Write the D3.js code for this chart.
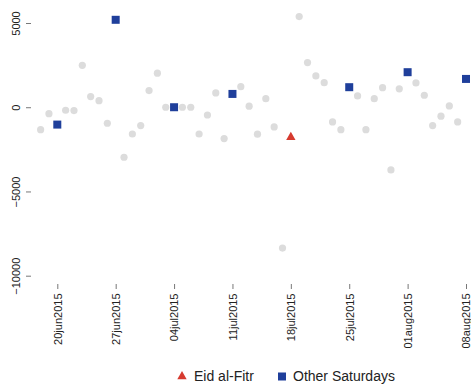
<!DOCTYPE html>
<html>
<head>
<meta charset="utf-8">
<script src="https://cdn.jsdelivr.net/npm/d3@7"></script>
<style>
  html, body { margin: 0; padding: 0; background: #fff; }
  svg { display: block; font-family: "Liberation Sans", Arial, Helvetica, sans-serif; }
</style>
</head>
<body>
<svg id="chart" width="471" height="389"></svg>
<script>
// ---- data ----
const otherDates = ["2015-06-18","2015-06-19","2015-06-21","2015-06-22","2015-06-23","2015-06-24","2015-06-25","2015-06-26",
  "2015-06-28","2015-06-29","2015-06-30","2015-07-01","2015-07-02","2015-07-03","2015-07-05","2015-07-06","2015-07-07",
  "2015-07-08","2015-07-09","2015-07-10","2015-07-12","2015-07-13","2015-07-14","2015-07-15","2015-07-16","2015-07-17",
  "2015-07-19","2015-07-20","2015-07-21","2015-07-22","2015-07-23","2015-07-24","2015-07-26","2015-07-27","2015-07-28",
  "2015-07-29","2015-07-30","2015-07-31","2015-08-02","2015-08-03","2015-08-04","2015-08-05","2015-08-06","2015-08-07"];
const otherValues = [-1330,-380,-180,-200,2490,630,390,-950,
  -2970,-1590,-1090,990,2020,0,0,0,-1590,
  -460,850,-1860,1220,60,-1600,510,-1170,-8360,
  5380,2650,1860,1460,-870,-1330,670,-1330,510,
  1160,-3720,1090,1440,710,-1090,-530,80,-870];
const saturdayDates = ["2015-06-20","2015-06-27","2015-07-04","2015-07-11","2015-07-25","2015-08-01","2015-08-08"];
const saturdayValues = [-1030,5190,0,790,1190,2080,1680];
const eidDates = ["2015-07-18"];
const eidValues = [-1780];
const tickDates = ["2015-06-20","2015-06-27","2015-07-04","2015-07-11","2015-07-18","2015-07-25","2015-08-01","2015-08-08"];
const tickLabels = ["20jun2015","27jun2015","04jul2015","11jul2015","18jul2015","25jul2015","01aug2015","08aug2015"];
const yTicks = [-10000,-5000,0,5000];
const legendLabels = ["Eid al-Fitr","Other Saturdays"];

const parse = d3.utcParse("%Y-%m-%d");
const svg = d3.select("#chart");

const x = d3.scaleUtc()
  .domain([parse("2015-06-20"), parse("2015-08-08")])
  .range([57.3, 466]);
const y = d3.scaleLinear()
  .domain([-10000, 5000])
  .range([275.7, 23.0]);

// y axis
const yAxis = d3.axisLeft(y).tickValues(yTicks).tickSize(5).tickPadding(4).tickFormat(d3.format("d"));
const gy = svg.append("g").attr("transform", "translate(31,0)").call(yAxis);
gy.select(".domain").remove();
gy.selectAll(".tick line").attr("stroke", "#555").attr("stroke-width", 0.8);
gy.selectAll(".tick text")
  .attr("font-size", 11).attr("fill", "#222")
  .attr("x", null)
  .attr("text-anchor", "middle")
  .attr("transform", "translate(-15,0) rotate(-90)")
  .attr("dy", "0.35em")
  .attr("y", 0);

// x axis
const tickMap = new Map(tickDates.map((d, i) => [+parse(d), tickLabels[i]]));
const xAxis = d3.axisBottom(x).tickValues(tickDates.map(parse)).tickSize(5).tickPadding(3)
  .tickFormat(d => tickMap.get(+d));
const gx = svg.append("g").attr("transform", "translate(0,284)").call(xAxis);
gx.select(".domain").remove();
gx.selectAll(".tick line").attr("stroke", "#555").attr("stroke-width", 0.8);
gx.selectAll(".tick text")
  .attr("font-size", 11).attr("fill", "#222")
  .attr("y", 0).attr("dy", "0.35em")
  .attr("text-anchor", "end")
  .attr("transform", "translate(0,9.5) rotate(-90)")
  .attr("x", 0);

// gray dots
svg.append("g").selectAll("circle")
  .data(otherDates.map((d, i) => ({date: parse(d), v: otherValues[i]})))
  .join("circle")
  .attr("cx", d => x(d.date)).attr("cy", d => y(d.v))
  .attr("r", 3.6).attr("fill", "#dcdcdc");

// eid triangle
const tri = d3.symbol().type(d3.symbolTriangle).size(38);
svg.append("g").selectAll("path")
  .data(eidDates.map((d, i) => ({date: parse(d), v: eidValues[i]})))
  .join("path")
  .attr("d", tri)
  .attr("transform", d => `translate(${x(d.date)},${y(d.v)})`)
  .attr("fill", "#d63a2f");

// saturdays squares
const sq = 8;
svg.append("g").selectAll("rect")
  .data(saturdayDates.map((d, i) => ({date: parse(d), v: saturdayValues[i]})))
  .join("rect")
  .attr("x", d => x(d.date) - sq/2).attr("y", d => y(d.v) - sq/2)
  .attr("width", sq).attr("height", sq)
  .attr("fill", "#1f3f9b");

// legend
const lg = svg.append("g");
lg.append("path").attr("d", tri).attr("transform", "translate(182,376.5)").attr("fill", "#d63a2f");
lg.append("text").attr("x", 194).attr("y", 376.5).attr("dy", "0.35em")
  .attr("font-size", 14).attr("fill", "#222").text(legendLabels[0]);
lg.append("rect").attr("x", 278).attr("y", 372.5).attr("width", 8).attr("height", 8).attr("fill", "#1f3f9b");
lg.append("text").attr("x", 293).attr("y", 376.5).attr("dy", "0.35em")
  .attr("font-size", 14).attr("fill", "#222").text(legendLabels[1]);
</script>
</body>
</html>
